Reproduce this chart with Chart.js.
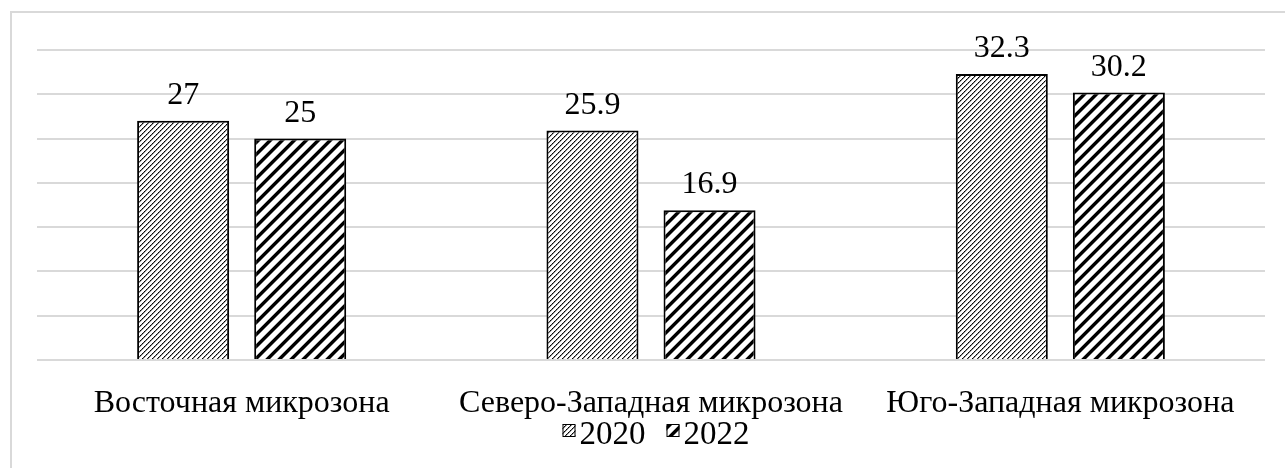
<!DOCTYPE html>
<html lang="ru">
<head>
<meta charset="utf-8">
<script src="https://cdn.jsdelivr.net/npm/chart.js@4.4.1/dist/chart.umd.min.js"></script>
<style>
  html, body { margin: 0; padding: 0; background: #ffffff; overflow: hidden; }
  #frame {
    position: absolute; left: 10px; top: 11px; width: 1400px; height: 600px;
    border-top: 2px solid #d9d9d9; border-left: 2px solid #d9d9d9;
  }
  #wrap { position: absolute; left: 0; top: 0; width: 1285px; height: 468px; }
</style>
</head>
<body>
<div id="frame"></div>
<div id="wrap"><canvas id="chart" width="1285" height="468"></canvas></div>
<script>
// Categories, series and value-axis settings
const categories = ['Восточная микрозона', 'Северо-Западная микрозона', 'Юго-Западная микрозона'];
const seriesNames = ['2020', '2022'];
const values2020 = [27, 25.9, 32.3];
const values2022 = [25, 16.9, 30.2];
const yMax = 35;
const yStep = 5;

const FONT_FAMILY = "'Times New Roman', 'Liberation Serif', serif";
const FONT_SIZE = 32;
const LEGEND_FONT_SIZE = 33;

const canvas = document.getElementById('chart');
const ctx0 = canvas.getContext('2d');

// Builds a repeating diagonal hatch tile pixel by pixel
function makePattern(size, shade) {
  const c = document.createElement('canvas');
  c.width = size; c.height = size;
  const cx = c.getContext('2d');
  const img = cx.createImageData(size, size);
  for (let y = 0; y < size; y++) {
    for (let x = 0; x < size; x++) {
      const v = shade(x, y);
      const i = (y * size + x) * 4;
      img.data[i] = v; img.data[i + 1] = v; img.data[i + 2] = v; img.data[i + 3] = 255;
    }
  }
  cx.putImageData(img, 0, 0);
  return ctx0.createPattern(c, 'repeat');
}

// Fine dotted upward diagonal
const finePattern = makePattern(10, (x, y) => {
  const d = (x + y) % 5;
  if (d === 0) return (x % 2 === 0) ? 0 : 50;
  if (d === 1) return 150;
  return 255;
});

// Wide upward diagonal
const widePattern = makePattern(12, (x, y) => {
  const d = (x + y) % 12;
  if (d <= 3) return 0;
  if (d === 4) return 120;
  if (d === 11) return 170;
  return 255;
});

const fills = [finePattern, widePattern];

// Value labels above each bar
const valueLabels = {
  id: 'valueLabels',
  afterDatasetsDraw(chart) {
    const ctx = chart.ctx;
    ctx.save();
    ctx.font = FONT_SIZE + 'px ' + FONT_FAMILY;
    ctx.fillStyle = '#000000';
    ctx.textAlign = 'center';
    ctx.textBaseline = 'alphabetic';
    chart.data.datasets.forEach((ds, di) => {
      const meta = chart.getDatasetMeta(di);
      meta.data.forEach((bar, i) => {
        ctx.fillText(String(ds.data[i]), bar.x, bar.y - 17);
      });
    });
    ctx.restore();
  }
};

// Legend row with hatched swatches under the category labels
const hatchLegend = {
  id: 'hatchLegend',
  afterDraw(chart) {
    const ctx = chart.ctx;
    const area = chart.chartArea;
    ctx.save();
    ctx.font = LEGEND_FONT_SIZE + 'px ' + FONT_FAMILY;
    const box = 13, gapText = 4, gapItem = 21;
    const items = chart.data.datasets.map((ds, i) => ({
      text: ds.label, fill: fills[i], w: ctx.measureText(ds.label).width
    }));
    let total = 0;
    items.forEach((it, i) => { total += box + gapText + it.w + (i < items.length - 1 ? gapItem : 0); });
    let x = (area.left + area.right) / 2 - total / 2 + 5;
    const baseY = 444;
    const boxTop = 424;
    items.forEach((it) => {
      ctx.fillStyle = it.fill;
      ctx.fillRect(x, boxTop, box, box);
      ctx.strokeStyle = '#000000';
      ctx.lineWidth = 1;
      ctx.strokeRect(x + 0.5, boxTop + 0.5, box - 1, box - 1);
      ctx.fillStyle = '#000000';
      ctx.textAlign = 'left';
      ctx.textBaseline = 'alphabetic';
      ctx.fillText(it.text, x + box + gapText, baseY);
      x += box + gapText + it.w + gapItem;
    });
    ctx.restore();
  }
};

new Chart(canvas, {
  type: 'bar',
  data: {
    labels: categories,
    datasets: [
      { label: seriesNames[0], data: values2020, backgroundColor: fills[0] },
      { label: seriesNames[1], data: values2022, backgroundColor: fills[1] }
    ]
  },
  options: {
    responsive: false,
    animation: false,
    devicePixelRatio: 1,
    layout: { padding: { top: 50, left: 37, right: 20, bottom: 0 } },
    datasets: {
      bar: {
        borderColor: '#000000',
        borderWidth: 2,
        borderSkipped: 'start',
        categoryPercentage: 0.572,
        barPercentage: 0.786
      }
    },
    plugins: {
      legend: { display: false },
      tooltip: { enabled: false }
    },
    scales: {
      x: {
        grid: { display: false, drawTicks: false },
        border: { display: false },
        ticks: {
          color: '#000000',
          padding: 24,
          font: { family: FONT_FAMILY, size: FONT_SIZE }
        },
        afterFit(scale) { scale.height = 108; }
      },
      y: {
        min: 0,
        max: yMax,
        ticks: { display: false, stepSize: yStep },
        grid: { color: '#d9d9d9', lineWidth: 2, drawTicks: false },
        border: { display: false },
        afterFit(scale) { scale.width = 0; }
      }
    }
  },
  plugins: [valueLabels, hatchLegend]
});
</script>
</body>
</html>
